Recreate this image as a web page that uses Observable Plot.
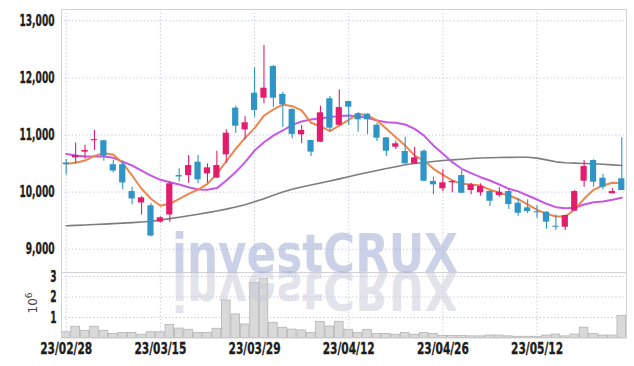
<!DOCTYPE html>
<html><head><meta charset="utf-8">
<script src="https://cdn.jsdelivr.net/npm/d3@7"></script>
<script src="https://cdn.jsdelivr.net/npm/@observablehq/plot@0.6"></script>
<style>
body{margin:0;background:#fff;}
#chart{position:relative;width:634px;height:366px;overflow:hidden;}
#chart svg{display:block;}
</style></head><body><div id="chart"></div>
<script>
const dates = ["23/02/28","23/03/02","23/03/03","23/03/06","23/03/07","23/03/08","23/03/09","23/03/10","23/03/13","23/03/14",
"23/03/15","23/03/16","23/03/17","23/03/20","23/03/21","23/03/22","23/03/23","23/03/24","23/03/27","23/03/28",
"23/03/29","23/03/30","23/03/31","23/04/03","23/04/04","23/04/05","23/04/06","23/04/07","23/04/10","23/04/11",
"23/04/12","23/04/13","23/04/14","23/04/17","23/04/18","23/04/19","23/04/20","23/04/21","23/04/24","23/04/25",
"23/04/26","23/04/27","23/04/28","23/05/02","23/05/03","23/05/04","23/05/08","23/05/09","23/05/10","23/05/11",
"23/05/12","23/05/15","23/05/16","23/05/17","23/05/18","23/05/19","23/05/22","23/05/23","23/05/24","23/05/25"];

const open  = [10510,10600,10700,10900,10900,10480,10480,10010,9810,9760, 9475,9600,10290,10290,10524,10320,10245,10653,11470,11090,
11732,11645,12200,11710,11447,11003,10904,10874,11634,11170, 11587,11371,11365,11172,10950,10786,10711,10495,10716,10186,
10058,10163,10290,10028,9988,10010,9941,10010,9806,9725, 9655,9648,9403,9385,9667,10191,10553,10243,9970,10233];
const high  = [10570,10860,10820,11080,10910,10560,10540,10085,9920,9800, 9570,10180,10410,10640,10640,10495,10716,11090,11505,11320,
12177,12567,12217,11750,11460,11166,10910,11505,11674,11792, 11590,11389,11371,11207,10955,10890,10961,10786,10740,10261,
10390,10200,10378,10156,10145,10020,10075,10045,9883,9865, 9765,9655,9600,9600,10028,10553,10565,10308,10058,10950];
const low   = [10300,10500,10580,10730,10540,10340,10040,9780,9600,9220, 9460,9470,10175,10156,10145,10155,10240,10506,11030,10920,
11312,11546,11487,11137,10933,10846,10624,10874,11049,11160, 11166,11049,11010,10886,10624,10745,10490,10490,10180,9953,
10010,9988,9975,9953,9930,9748,9910,9695,9578,9620, 9543,9350,9328,9327,9660,10086,10086,10040,9970,10028];
const close = [10480,10640,10730,10920,10630,10370,10160,9880,9900,9230, 9550,10145,10265,10465,10215,10425,10465,11032,11154,11214,
11430,11820,11645,11530,11010,11080,10700,11389,11120,11480, 11487,11266,11266,10944,10716,10846,10495,10600,10191,10128,
10163,10186,9980,10128,10098,9840,9998,9783,9630,9660, 9637,9473,9385,9590,10010,10448,10174,10086,10010,10028];

const volume = [280000,550000,350000,550000,350000,200000,250000,250000,160000,280000,
280000,640000,460000,400000,250000,250000,450000,1830000,1150000,660000,
2690000,2890000,740000,500000,410000,370000,250000,790000,560000,790000,
400000,250000,400000,200000,200000,160000,250000,160000,250000,200000,
100000,100000,100000,80000,80000,120000,120000,80000,60000,60000,
60000,120000,170000,80000,170000,500000,200000,120000,120000,1080000];

const ma5 = [10496,10513,10553,10635,10680,10657,10506,10290,10058,9883, 9760,9795,9883,9970,10045,10145,10320,10540,10758,10950,
11120,11340,11447,11534,11505,11430,11214,11154,11067,11166, 11266,11371,11342,11254,11108,10961,10816,10640,10553,10408,
10303,10203,10145,10133,10116,10040,9988,9940,9875,9783, 9690,9620,9573,9573,9695,9883,10040,10116,10163,10160];
const ma10 = [10668,10640,10625,10623,10623,10600,10535,10466,10378,10290, 10215,10174,10133,10086,10045,10040,10070,10203,10350,10524,
10728,10874,10990,11079,11178,11237,11272,11295,11312,11335, 11342,11325,11301,11254,11225,11214,11184,11108,10990,10816,
10670,10524,10408,10333,10261,10203,10133,10058,10013,9940, 9870,9795,9736,9718,9725,9783,9823,9835,9865,9900];
const ma60 = [9410,9418,9425,9432,9440,9448,9456,9465,9476,9490, 9510,9535,9560,9585,9612,9640,9670,9702,9738,9780,
9830,9885,9945,10000,10050,10090,10125,10160,10195,10232, 10270,10307,10343,10378,10412,10445,10478,10500,10518,10535,
10553,10565,10575,10588,10596,10602,10606,10609,10611,10610, 10595,10565,10530,10515,10508,10502,10496,10488,10477,10466];

const priceTicks = [9000,10000,11000,12000,13000];
const volTicks = [1000000,2000000,3000000];
const tickDates = ["23/02/28","23/03/15","23/03/29","23/04/12","23/04/26","23/05/12"];

const UP = "#e31c6d", DOWN = "#2e95c6";
const candles = dates.map((d,i)=>({date:d, open:open[i], high:high[i], low:low[i], close:close[i]}));
const vols = dates.map((d,i)=>({date:d, volume:volume[i]}));
const line = arr => dates.map((d,i)=>({date:d, v:arr[i]}));

const fontFamily = '"DejaVu Sans","Liberation Sans",sans-serif';
const grid = {stroke:"#bfc4da", strokeDasharray:"1.2,2.4", strokeWidth:1};
const frameColor = "#d2d2d2";
const xOpt = {type:"band", domain:dates, padding:0, round:false, axis:null};

const price = Plot.plot({
  width:634, height:272, marginTop:9, marginBottom:0, marginLeft:61, marginRight:8,
  style:{fontFamily, fontSize:"16px", color:"#222", background:"white", overflow:"visible"},
  x:xOpt,
  y:{domain:[8592,13198], axis:null},
  color:{type:"identity"},
  marks:[
    Plot.ruleY(priceTicks, grid),
    Plot.ruleX(tickDates, grid),
    Plot.axisY({ticks:priceTicks, tickSize:0, tickPadding:7, tickFormat:d3.format(","), label:null}),
    Plot.line(line(ma60), {x:"date", y:"v", stroke:"#7d7d7d", strokeWidth:1.6}),
    Plot.line(line(ma10), {x:"date", y:"v", stroke:"#c857e6", strokeWidth:2}),
    Plot.line(line(ma5), {x:"date", y:"v", stroke:"#ee864c", strokeWidth:2}),
    Plot.ruleX(candles, {x:"date", y1:"low", y2:"high", stroke:d=>d.close>=d.open?UP:DOWN, strokeWidth:1.1}),
    Plot.barY(candles, {x:"date", y1:"open", y2:"close", fill:d=>d.close>=d.open?UP:DOWN, insetLeft:1.6, insetRight:1.6}),
    Plot.frame({stroke:frameColor})
  ]
});

const vol = Plot.plot({
  width:634, height:94, marginTop:0, marginBottom:28.5, marginLeft:61, marginRight:8,
  style:{fontFamily, fontSize:"16px", color:"#222", background:"white", overflow:"visible"},
  x:xOpt,
  y:{domain:[0,3195000], axis:null},
  marks:[
    Plot.ruleY(volTicks, grid),
    Plot.ruleX(tickDates, grid),
    Plot.barY(vols, {x:"date", y:"volume", fill:"#d9d9d9", stroke:"#b4b4b4", strokeWidth:0.8, insetLeft:0.4, insetRight:0.4}),
    Plot.axisY({ticks:volTicks, tickSize:0, tickPadding:5, tickFormat:d=>d/1e6, label:null}),
    Plot.axisX({ticks:tickDates, tickSize:0, tickPadding:5, label:null}),
    Plot.frame({stroke:frameColor})
  ]
});

const chart = document.getElementById("chart");
chart.append(price, vol);

// narrow, heavy tick labels like the reference
function narrow(sel, sample, target) {
  const texts = d3.select(chart).selectAll(sel).nodes();
  texts.forEach(t => {
    t.style.fontWeight = "bold"; t.style.fill = "#1c1c1c";
    t.style.stroke = "#1c1c1c"; t.style.strokeWidth = "0.35px";
  });
  const ref = texts.find(t => t.textContent === sample) || texts[0];
  const k = target / ref.getComputedTextLength();
  texts.forEach(t => {
    t.setAttribute("textLength", (t.getComputedTextLength()*k).toFixed(1));
    t.setAttribute("lengthAdjust", "spacingAndGlyphs");
  });
}
narrow('g[aria-label="y-axis tick label"] text', "13,000", 35);
narrow('g[aria-label="x-axis tick label"] text', "23/02/28", 52);

// exponent label of the volume axis
const vsvg = d3.select(vol);
const lab = vsvg.append("text")
  .attr("transform","translate(37,31) rotate(-90)")
  .attr("text-anchor","middle")
  .attr("fill","#444")
  .style("font-family",'"DejaVu Sans","Liberation Sans",sans-serif')
  .style("font-size","12px");
lab.append("tspan").text("10");
lab.append("tspan").attr("dy","-5").style("font-size","9px").text("6");

// watermark with reflection
const ov = d3.select(chart).append("svg")
  .attr("width",634).attr("height",366)
  .style("position","absolute").style("left","0px").style("top","0px").style("pointer-events","none");
const wm = (g, fill, op) => g.append("text")
  .attr("x",315).attr("y",272).attr("text-anchor","middle")
  .attr("textLength",286).attr("lengthAdjust","spacingAndGlyphs")
  .style("font-family",'"DejaVu Sans","Liberation Sans",sans-serif')
  .style("font-weight","bold").style("font-size","54px")
  .attr("fill",fill).attr("fill-opacity",op).text("investCRUX");
wm(ov.append("g").attr("transform","translate(0,544) scale(1,-1)"), "rgb(200,200,215)", 0.5);
wm(ov.append("g"), "rgb(160,172,210)", 0.55);
</script></body></html>
